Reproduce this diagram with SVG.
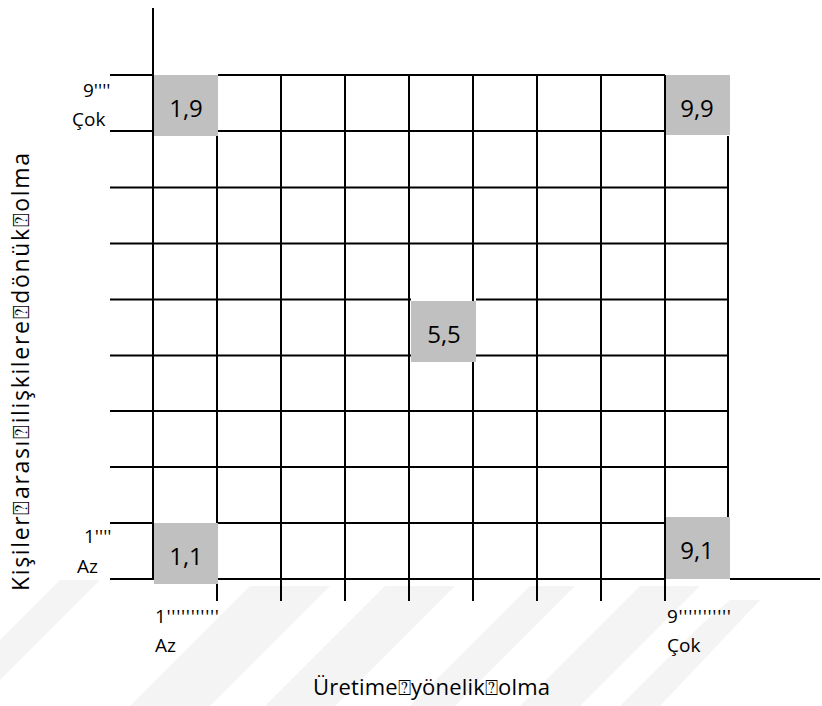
<svg xmlns="http://www.w3.org/2000/svg" width="822" height="706" viewBox="0 0 822 706">
<style>
.ln{stroke:#000;stroke-width:2;fill:none}
.box{fill:#c0c0c0}
.t{font-family:"Open Sans","Noto Sans","DejaVu Sans",sans-serif;fill:#000}
.big{font-size:24px;text-anchor:middle}
.sm{font-size:19px}
.ax{font-size:22px}
.wm{fill:#f4f4f4}
</style>
<rect width="822" height="706" fill="#fff"/>
<g id="watermark">
<polygon class="wm" points="0,640 60,580 100,580 0,680"/>
<polygon class="wm" points="130,706 250,586 330,586 210,706"/>
<polygon class="wm" points="265,706 385,586 455,586 335,706"/>
<polygon class="wm" points="410,706 530,586 575,586 455,706"/>
<polygon class="wm" points="520,706 640,586 700,586 580,706"/>
<polygon class="wm" points="620,706 700,626 730,600 760,600 660,706"/>
</g>
<g id="cells">
<g id="c19"><rect class="box" x="154" y="75" width="64" height="61"/><text class="t big" x="186" y="117">1,9</text></g>
<g id="c99"><rect class="box" x="665" y="75" width="65" height="60"/><text class="t big" x="697" y="117">9,9</text></g>
<g id="c55"><rect class="box" x="411" y="301" width="65" height="61"/><text class="t big" x="444" y="343">5,5</text></g>
<g id="c11"><rect class="box" x="154" y="523" width="64" height="61"/><text class="t big" x="186" y="565">1,1</text></g>
<g id="c91"><rect class="box" x="665" y="517" width="65" height="62"/><text class="t big" x="697" y="559">9,1</text></g>
</g>
<g id="connectors">
<path class="ln" d="M153,8V579"/>
<path class="ln" d="M110,75H154"/>
<path class="ln" d="M218,75H665"/>
<path class="ln" d="M110,131H154M218,131H665"/>
<path class="ln" d="M110,187.5H729M110,243.5H729M110,299.5H411M476,299.5H729M110,355.5H411M476,355.5H729M110,411H729M110,467H729"/>
<path class="ln" d="M110,523H154M218,523H665"/>
<path class="ln" d="M110,579H154M218,579H665M730,579H820"/>
<path class="ln" d="M728,136V517"/>
<path class="ln" d="M217,136V523M217,584V601"/>
<path class="ln" d="M281,75V601M345,75V601"/>
<path class="ln" d="M409,75V601"/>
<path class="ln" d="M473,75V301M473,362V601"/>
<path class="ln" d="M537,75V601M601,75V601"/>
<path class="ln" d="M665,75V601"/>
</g>
<g id="labels">
<text class="t sm" x="83" y="97">9''''</text>
<text class="t sm" x="72" y="126">Çok</text>
<text class="t sm" x="84" y="543">1''''</text>
<text class="t sm" x="77" y="573">Az</text>
<text class="t sm" x="155" y="623" textLength="64">1'''''''''''</text>
<text class="t sm" x="155" y="652">Az</text>
<text class="t sm" x="667" y="623" textLength="64">9'''''''''''</text>
<text class="t sm" x="667" y="652">Çok</text>
<text class="t ax" x="313" y="695" textLength="237">Üretime⍰yönelik⍰olma</text>
<text class="t" style="font-size:23px" transform="translate(29,591) rotate(-90)" x="0" y="0" textLength="438">Kişiler⍰arası⍰ilişkilere⍰dönük⍰olma</text>
</g>
</svg>
